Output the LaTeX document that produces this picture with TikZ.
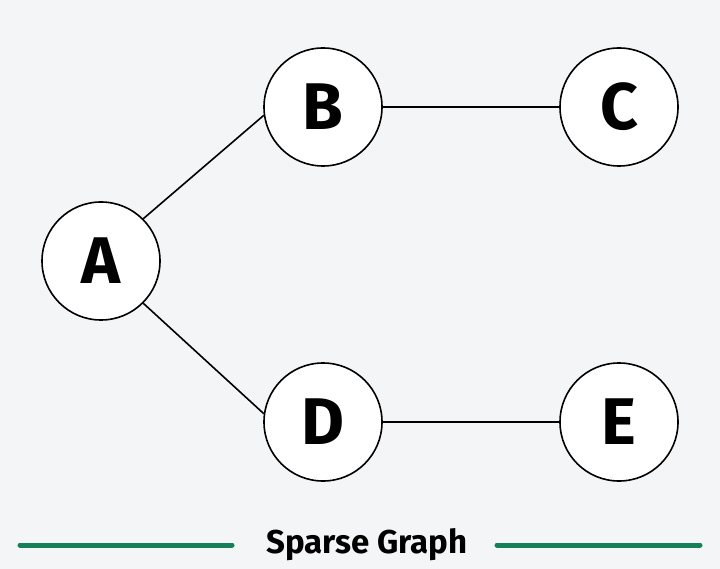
\documentclass[tikz,border=0pt]{standalone}
\usepackage{fontspec}
\setmainfont{Fira Sans}
\definecolor{bg}{RGB}{244,245,246}
\definecolor{gr}{RGB}{22,128,88}
\begin{document}
\begin{tikzpicture}[x=1pt,y=-1pt,
  vtx/.style={circle,draw=black,line width=1.6pt,fill=white,minimum size=118pt,inner sep=0pt,font=\fontsize{66}{66}\selectfont\bfseries},
  edge/.style={line width=1.6pt,black},
  gline/.style={line width=5pt,draw=gr,line cap=round}]
\fill[bg] (0,0) rectangle (720,569);
\useasboundingbox (0,0) rectangle (720,569);
\node[vtx] (A) at (101,261) {A};
\node[vtx] (B) at (323,107) {B};
\node[vtx] (C) at (619,107) {C};
\node[vtx] (D) at (323,422) {D};
\node[vtx] (E) at (619,422) {E};
\draw[edge] (A.45) -- (B.188);
\draw[edge] (A.-45) -- (D.172);
\draw[edge] (B) -- (C);
\draw[edge] (D) -- (E);
\node[font=\fontsize{33}{33}\selectfont\bfseries] (T) at (367,545) {Sparse Graph};
\coordinate (L1) at (20,545); \coordinate (L2) at (232,545);
\coordinate (R1) at (497,545); \coordinate (R2) at (700,545);
\draw[gline] (L1) -- (L2);
\draw[gline] (R1) -- (R2);
\end{tikzpicture}
\end{document}
